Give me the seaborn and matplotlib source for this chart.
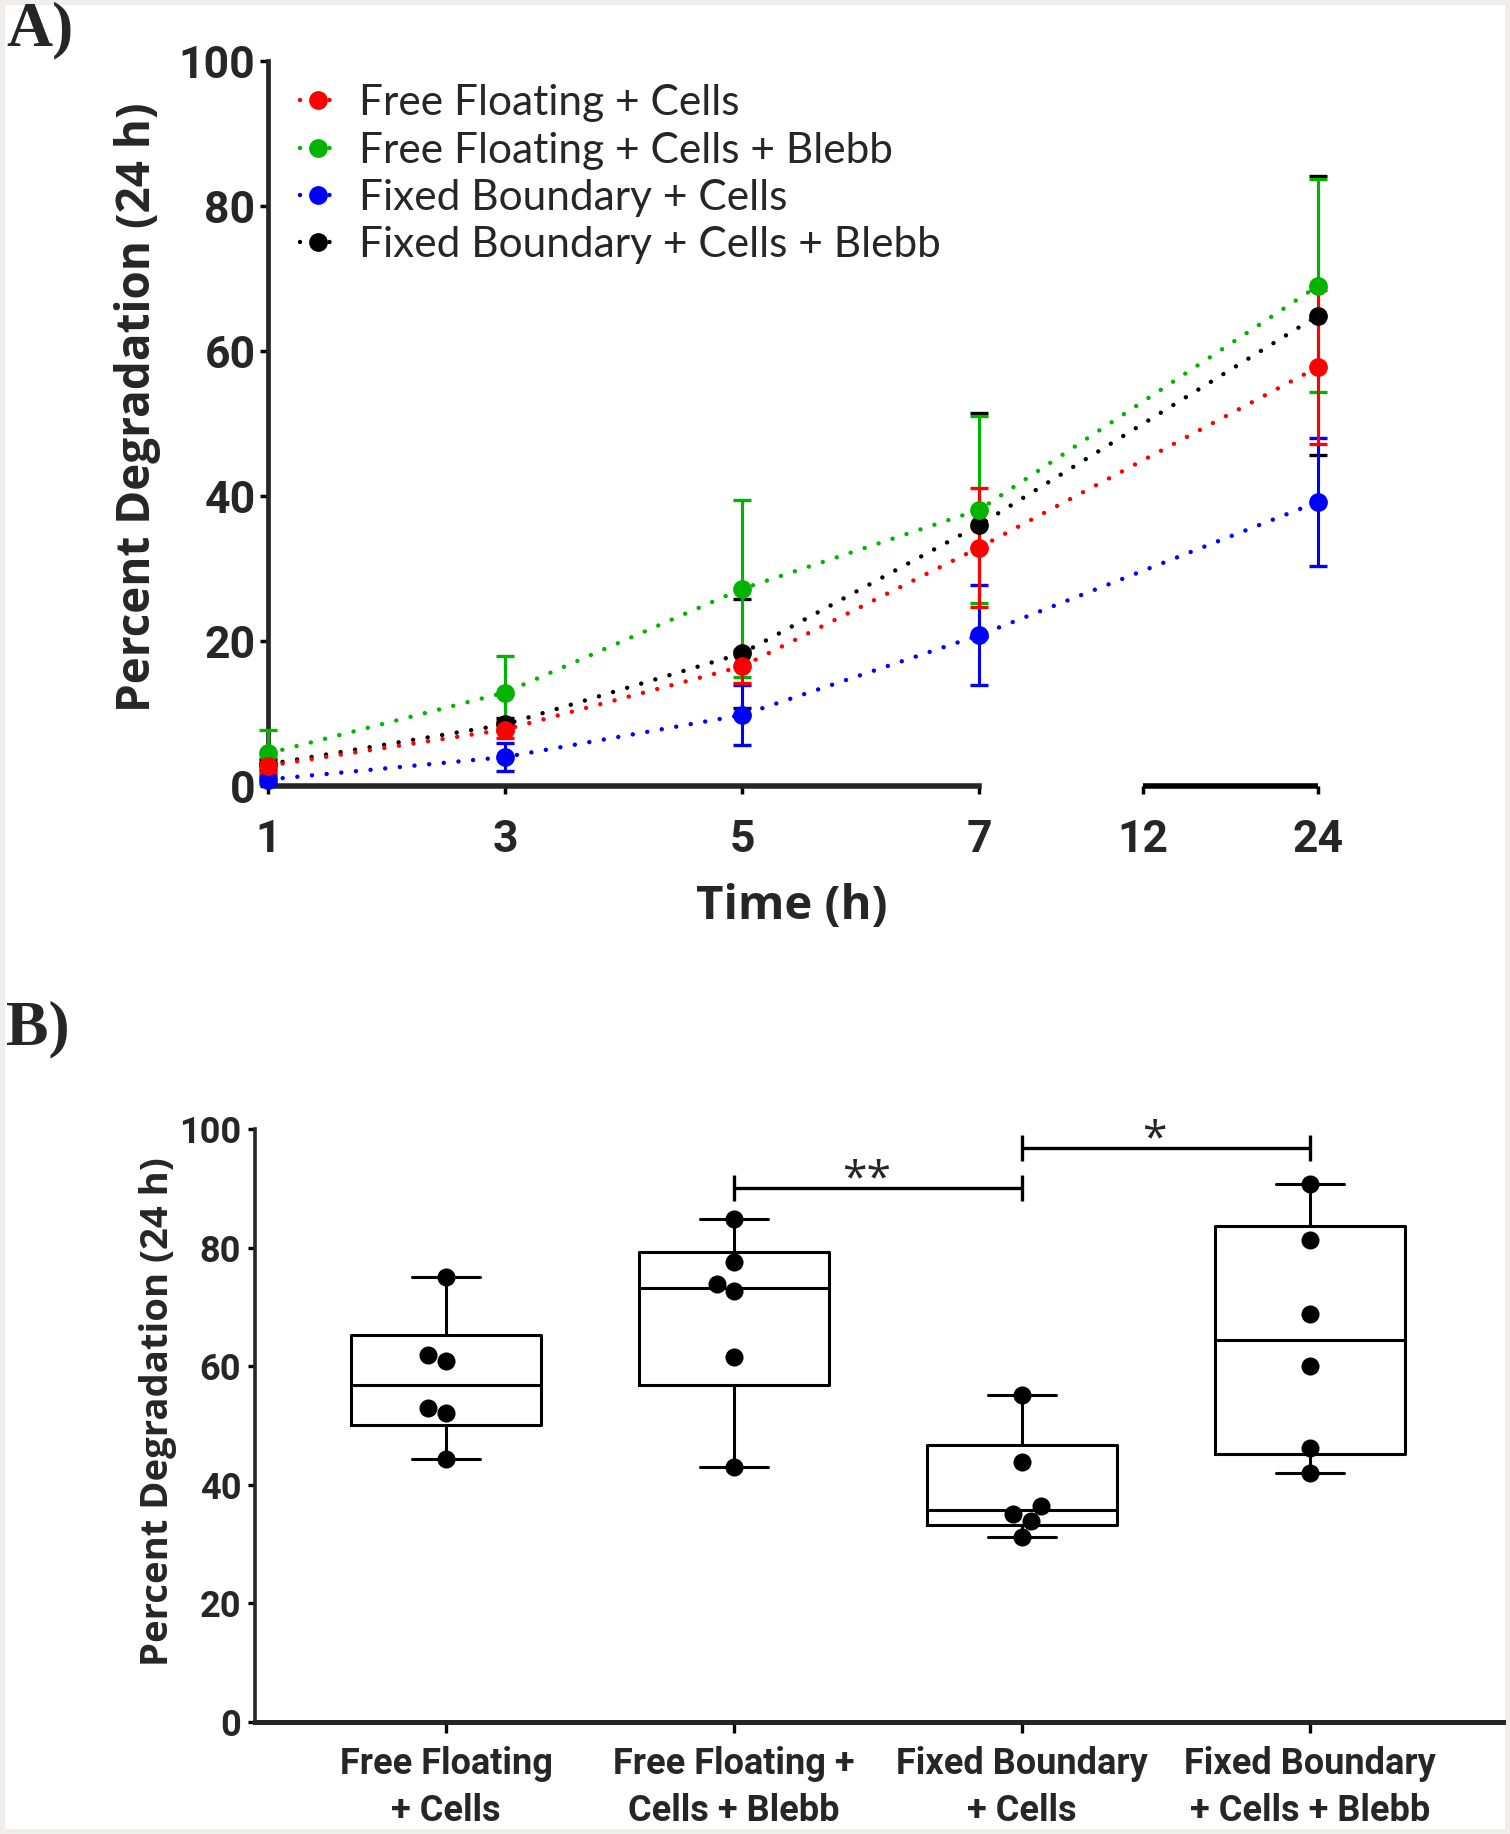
import numpy as np
import matplotlib
matplotlib.use('Agg')
import matplotlib.pyplot as plt
import seaborn as sns

# ---- Panel A data: mean +/- SD percent degradation over time ----
hours = [1, 3, 5, 7, 24]
series_names = ['Free Floating + Cells', 'Free Floating + Cells + Blebb',
                'Fixed Boundary + Cells', 'Fixed Boundary + Cells + Blebb']
ff_cells_mean = [2.8, 7.8, 16.5, 32.9, 57.8]
ff_cells_sd = [1.0, 1.2, 2.3, 8.2, 10.6]
ff_blebb_mean = [4.5, 12.9, 27.2, 38.1, 69.0]
ff_blebb_sd = [3.2, 5.1, 12.2, 12.9, 14.7]
fb_cells_mean = [0.9, 4.0, 9.8, 20.8, 39.2]
fb_cells_sd = [0.6, 1.9, 4.2, 6.9, 8.8]
fb_blebb_mean = [3.0, 8.5, 18.3, 36.0, 64.9]
fb_blebb_sd = [0.8, 0.9, 7.5, 15.4, 19.2]
time_ticks = [1, 3, 5, 7, 12, 24]

# ---- Panel B data: percent degradation at 24 h, one value per sample ----
groups = ['Free Floating\n+ Cells', 'Free Floating +\nCells + Blebb',
          'Fixed Boundary\n+ Cells', 'Fixed Boundary\n+ Cells + Blebb']
ff_cells_24h = [75.1, 61.9, 60.9, 52.9, 52.1, 44.3]
ff_blebb_24h = [84.8, 77.5, 73.8, 72.6, 61.5, 43.0]
fb_cells_24h = [55.2, 43.8, 36.5, 35.1, 33.9, 31.2]
fb_blebb_24h = [90.7, 81.3, 68.8, 60.0, 46.2, 42.0]
sig_pairs = [(1, 2, '**'), (2, 3, '*')]
sig_heights = [90, 96.8]

sns.set_style('ticks')
plt.rcParams['font.family'] = ['Open Sans', 'DejaVu Sans']
tick_font = ['Roboto', 'DejaVu Sans']

fig = plt.figure(figsize=(15.1, 18.34), dpi=100)
fig.patch.set_edgecolor('#f2eded')
fig.patch.set_linewidth(6)

# ================= Panel A =================
axA = fig.add_axes([0.1775, 0.5714, 0.6954, 0.3953])

# broken time axis: 1-7 h linear, then a compressed 12-24 h section
knots_h = [-20, 1, 7, 12, 24, 60]
knots_p = [-20, 1, 7, 8.38, 9.86, 14.3]
fwd = lambda h: np.interp(h, knots_h, knots_p)
inv = lambda p: np.interp(p, knots_p, knots_h)
axA.set_xscale('function', functions=(fwd, inv))

colors = ['#ff0000', '#00b400', '#0000ff', '#000000']
means = [ff_cells_mean, ff_blebb_mean, fb_cells_mean, fb_blebb_mean]
sds = [ff_cells_sd, ff_blebb_sd, fb_cells_sd, fb_blebb_sd]
draw_order = [3, 1, 2, 0]  # black at the bottom, red on top

for rank, i in enumerate(draw_order):
    eb = axA.errorbar(hours, means[i], yerr=sds[i], fmt='none', ecolor=colors[i],
                      elinewidth=2.2, capsize=6.5, capthick=2.4, zorder=3 + rank * 0.1)
    for part in eb.lines:
        for art in (part if isinstance(part, tuple) else [part]):
            if art is not None:
                art.set_clip_on(False)

for rank, i in enumerate(draw_order):
    sns.lineplot(x=hours, y=means[i], ax=axA, color=colors[i], marker='o',
                 markersize=13.5, markeredgewidth=0, linewidth=3.2,
                 linestyle=(0, (0.01, 3.3)), dash_capstyle='round',
                 label=series_names[i], clip_on=False, zorder=4 + rank * 0.1)

handles, labels = axA.get_legend_handles_labels()
order = [labels.index(n) for n in series_names]
axA.legend([handles[k] for k in order], [labels[k] for k in order],
           loc='upper left', bbox_to_anchor=(0.03, 0.968), frameon=False,
           prop={'family': ['Lato', 'DejaVu Sans'], 'size': 30.5},
           handlelength=0.85, handletextpad=0.55, labelspacing=0.22,
           borderaxespad=0, borderpad=0)

axA.set_xlim(1, 24)
axA.set_ylim(0, 100)
axA.set_xticks(time_ticks)
axA.set_xticklabels([str(t) for t in time_ticks])
axA.set_xticks([7, 12, 24], minor=True)
axA.set_yticks([0, 20, 40, 60, 80, 100])

for s in ['top', 'right']:
    axA.spines[s].set_visible(False)
axA.spines['left'].set_linewidth(3.4)
axA.spines['bottom'].set_linewidth(4.0)
axA.spines['bottom'].set_bounds(1, 7)
axA.plot([12, 24], [0, 0], color='black', lw=4.0, solid_capstyle='butt',
         clip_on=False, zorder=2.5)

axA.tick_params(axis='both', which='major', direction='out', width=2.5, length=6,
                color='black', labelsize=32)
axA.tick_params(axis='y', pad=3)
axA.tick_params(axis='x', which='major', pad=18)
axA.tick_params(axis='x', which='minor', direction='in', width=2.5, length=6)
for lab in axA.get_xticklabels() + axA.get_yticklabels():
    lab.set_family(tick_font)
    lab.set_fontweight('bold')

axA.set_xlabel('Time (h)', fontsize=34, fontweight='bold')
axA.xaxis.label.set_va('center')
axA.xaxis.set_label_coords(0.499, -0.166)
axA.set_ylabel('Percent Degradation (24 h)', fontsize=33, fontweight='bold')
axA.yaxis.label.set_va('center')
axA.yaxis.set_label_coords(-0.124, 0.523)

# ================= Panel B =================
axB = fig.add_axes([0.1689, 0.0611, 0.8265, 0.3233])
samples = [ff_cells_24h, ff_blebb_24h, fb_cells_24h, fb_blebb_24h]
long_x = [g for g, vals in zip(groups, samples) for _ in vals]
long_y = [v for vals in samples for v in vals]

sns.swarmplot(x=long_x, y=long_y, order=groups, ax=axB, color='black', size=13,
              zorder=4, warn_thresh=1)


def box_stats(vals):
    v = np.asarray(vals)
    q1, med, q3 = np.percentile(v, [25, 50, 75], method='weibull')
    return dict(med=med, q1=q1, q3=q3, whislo=v.min(), whishi=v.max(), fliers=[])


line_kw = dict(color='black', linewidth=2.2)
axB.bxp([box_stats(v) for v in samples], positions=range(len(groups)), widths=0.66,
        capwidths=0.236, showfliers=False, manage_ticks=False,
        boxprops=line_kw, whiskerprops=line_kw, capprops=line_kw,
        medianprops=line_kw, zorder=2)

for (a, b, txt), h in zip(sig_pairs, sig_heights):
    axB.plot([a, b], [h, h], color='black', lw=2.4, solid_capstyle='butt')
    axB.vlines([a, b], h - 2.2, h + 2.2, color='black', lw=2.4)
    axB.text((a + b) / 2 - 0.04, h - 0.6, txt, ha='center', va='baseline',
             fontsize=32, family=['Open Sans', 'DejaVu Sans'])

axB.set_xlim(-0.663, 3.67)
axB.set_ylim(0, 100)
axB.set_yticks([0, 20, 40, 60, 80, 100])
for s in ['top', 'right']:
    axB.spines[s].set_visible(False)
axB.spines['left'].set_linewidth(2.6)
axB.spines['bottom'].set_linewidth(3.6)
axB.tick_params(axis='both', direction='out', width=2.4, color='black', labelsize=26)
axB.tick_params(axis='y', length=5, pad=5)
axB.tick_params(axis='x', length=8, pad=9)
for lab in axB.get_xticklabels() + axB.get_yticklabels():
    lab.set_family(tick_font)
    lab.set_fontweight('bold')
    lab.set_linespacing(1.4)

axB.set_ylabel('Percent Degradation (24 h)', fontsize=27.5, fontweight='bold')
axB.yaxis.label.set_va('center')
axB.yaxis.set_label_coords(-0.078, 0.523)

# panel letters
fig.text(0.004, 0.999, 'A)', family=['Liberation Serif', 'DejaVu Serif'],
         fontweight='bold', fontsize=46, va='top', ha='left')
fig.text(0.004, 0.4547, 'B)', family=['Liberation Serif', 'DejaVu Serif'],
         fontweight='bold', fontsize=46, va='top', ha='left')

fig.savefig('out.png', dpi=100)
